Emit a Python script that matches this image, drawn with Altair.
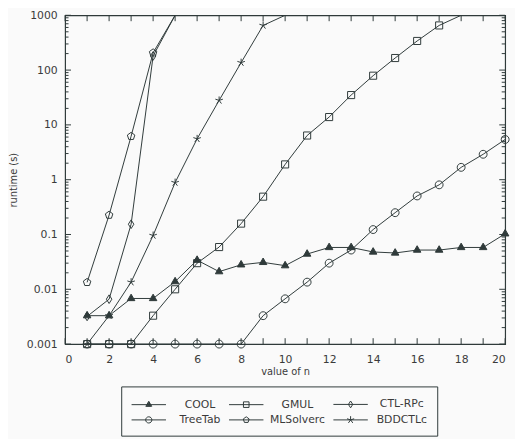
import altair as alt
import pandas as pd

# ---------------- data ----------------
series_names = ["COOL", "GMUL", "CTL-RPc", "TreeTab", "MLSolverc", "BDDCTLc"]

n_cool = list(range(1, 21))
cool = [0.0033, 0.0033, 0.0068, 0.0068, 0.0138, 0.034, 0.021, 0.028, 0.031, 0.027,
        0.044, 0.058, 0.058, 0.048, 0.046, 0.052, 0.052, 0.058, 0.058, 0.103]

n_gmul = list(range(1, 19))
gmul = [0.001, 0.001, 0.001, 0.0033, 0.01, 0.030, 0.059, 0.158, 0.49, 1.9,
        6.4, 13.9, 35, 79, 166, 340, 653, 1000]

n_ctl = list(range(1, 6))
ctl = [0.0032, 0.0066, 0.154, 181, 1000]

n_tree = list(range(1, 21))
tree = [0.001, 0.001, 0.001, 0.001, 0.001, 0.001, 0.001, 0.001, 0.0033, 0.0067,
        0.0135, 0.030, 0.052, 0.123, 0.25, 0.505, 0.805, 1.68, 2.91, 5.42]

n_mls = list(range(1, 6))
mls = [0.0134, 0.226, 6.2, 207, 1000]

n_bdd = list(range(1, 11))
bdd = [0.001, 0.0033, 0.0135, 0.096, 0.887, 5.57, 28, 137, 653, 1000]

x_tick_values = list(range(0, 21))
x_label_values = list(range(0, 21, 2))
y_major = [0.001, 0.01, 0.1, 1, 10, 100, 1000]
y_minor = [k * 10.0 ** e for e in range(-3, 3) for k in range(2, 10)]

rows = []
for name, ns, vs in zip(series_names,
                        [n_cool, n_gmul, n_ctl, n_tree, n_mls, n_bdd],
                        [cool, gmul, ctl, tree, mls, bdd]):
    for n, v in zip(ns, vs):
        rows.append({"series": name, "label": name, "n": n, "value": v})
df = pd.DataFrame(rows)

# ---------------- style ----------------
W, H = 447, 334
INK = "#2f3a3a"
TXT = "#3a3a3a"
BG = "#fafafa"
FONT = "DejaVu Sans"


def f(v):
    return "{:.3f}".format(v)


def tri(r):
    return "M0,{}L{},{}L{},{}Z".format(f(-1.1 * r), f(0.95 * r), f(0.55 * r), f(-0.95 * r), f(0.55 * r))


def square(r):
    a = 0.9 * r
    return "M{0},{0}L{1},{0}L{1},{1}L{0},{1}Z".format(f(-a), f(a))


def diamond(r):
    return "M0,{}L{},0L0,{}L{},0Z".format(f(-1.1 * r), f(0.7 * r), f(1.1 * r), f(-0.7 * r))


def circle(r):
    return "M{0},0A{0},{0},0,1,1,{1},0A{0},{0},0,1,1,{0},0Z".format(f(r), f(-r))


def pentagon(r):
    pts = [(0, -1), (0.951, -0.309), (0.588, 0.809), (-0.588, 0.809), (-0.951, -0.309)]
    return "M" + "L".join("{},{}".format(f(x * r), f(y * r)) for x, y in pts) + "Z"


def star(r):
    pts = [(0, -1), (0.951, -0.309), (0.588, 0.809), (-0.588, 0.809), (-0.951, -0.309)]
    return "".join("M0,0L{},{}".format(f(x * r), f(y * r)) for x, y in pts)


marker_range = [tri(1), square(1), diamond(1), circle(1), pentagon(1), star(1)]

LM = 0.42   # legend marker radius in legend units (1 unit = 7.5 px)
legend_markers = [
    "".join(tri(LM * k) for k in (1.0, 0.7, 0.4, 0.15)),
    square(LM), diamond(LM), circle(LM), pentagon(LM), star(LM * 1.2),
]
legend_range = ["M-2.33,0L2.33,0" + m for m in legend_markers]
fill_range = [INK, "transparent", "transparent", "transparent", "transparent", "transparent"]

x_scale = alt.Scale(domain=[0, 20], nice=False, zero=False)
y_scale = alt.Scale(type="log", domain=[0.001, 1000], nice=False)

x_axis = alt.Axis(values=x_label_values, ticks=False, domain=False, grid=False,
                  labelFont=FONT, labelFontSize=11, labelColor=TXT, labelPadding=10,
                  title="value of n", titleFont=FONT, titleFontSize=10,
                  titleFontWeight="normal", titleColor=TXT, titlePadding=2)
y_axis = alt.Axis(values=y_major, format="~g", ticks=False, domain=False, grid=False,
                  labelFont=FONT, labelFontSize=11, labelColor=TXT, labelPadding=8,
                  title="runtime (s)", titleFont=FONT, titleFontSize=10,
                  titleFontWeight="normal", titleColor=TXT, titlePadding=8)


def X():
    return alt.X("n:Q", scale=x_scale, axis=x_axis)


def Y():
    return alt.Y("value:Q", scale=y_scale, axis=y_axis)


lines = alt.Chart(df).mark_line(clip=True, color=INK, strokeWidth=1).encode(
    x=X(), y=Y(), detail="series:N"
)

points = alt.Chart(df).transform_filter("datum.value < 1000").mark_point(
    stroke=INK, strokeWidth=1, opacity=1, size=64
).encode(
    x=X(), y=Y(),
    shape=alt.Shape("series:N", scale=alt.Scale(domain=series_names, range=marker_range), legend=None),
    fill=alt.Fill("series:N", scale=alt.Scale(domain=series_names, range=fill_range), legend=None),
)

leg = alt.Legend(orient="none", legendX=57, legendY=377, columns=3, direction="horizontal",
                 title=None, strokeColor=INK, fillColor=BG, padding=10, cornerRadius=0,
                 labelFont=FONT, labelFontSize=11, labelColor=TXT, labelAlign="center",
                 symbolSize=225, symbolOffset=10, labelOffset=44,
                 symbolStrokeWidth=1, symbolStrokeColor=INK, symbolOpacity=1,
                 symbolFillColor="transparent",
                 columnPadding=6, rowPadding=2)

legend_layer = alt.Chart(df).mark_point(
    stroke=INK, strokeWidth=1, opacity=0, size=36, filled=False
).encode(
    x=X(), y=Y(),
    shape=alt.Shape("label:N", scale=alt.Scale(domain=series_names, range=legend_range), legend=leg),
)

xt = pd.DataFrame({"n": x_tick_values})
ymaj = pd.DataFrame({"value": y_major})
ymin = pd.DataFrame({"value": y_minor})

tick_bottom = alt.Chart(xt).mark_rule(color=INK, strokeWidth=1).encode(
    x=X(), y=alt.value(H), y2=alt.value(H - 6))
tick_top = alt.Chart(xt).mark_rule(color=INK, strokeWidth=1).encode(
    x=X(), y=alt.value(0), y2=alt.value(6))
maj_left = alt.Chart(ymaj).mark_rule(color=INK, strokeWidth=1).encode(
    y=Y(), x=alt.value(0), x2=alt.value(6))
maj_right = alt.Chart(ymaj).mark_rule(color=INK, strokeWidth=1).encode(
    y=Y(), x=alt.value(W), x2=alt.value(W - 6))
min_left = alt.Chart(ymin).mark_rule(color=INK, strokeWidth=1).encode(
    y=Y(), x=alt.value(0), x2=alt.value(3.5))
min_right = alt.Chart(ymin).mark_rule(color=INK, strokeWidth=1).encode(
    y=Y(), x=alt.value(W), x2=alt.value(W - 3.5))

chart = alt.layer(
    tick_bottom, tick_top, maj_left, maj_right, min_left, min_right,
    lines, points, legend_layer
).resolve_scale(
    shape="independent", fill="independent"
).properties(
    width=W, height=H,
    padding={"left": 58, "top": 4, "right": 10, "bottom": 93},
    autosize=alt.AutoSizeParams(type="none"),
    background=BG,
).configure_view(
    stroke=INK, strokeWidth=1.2
)

chart.save("out.html", embed_options={"renderer": "svg", "actions": False})
